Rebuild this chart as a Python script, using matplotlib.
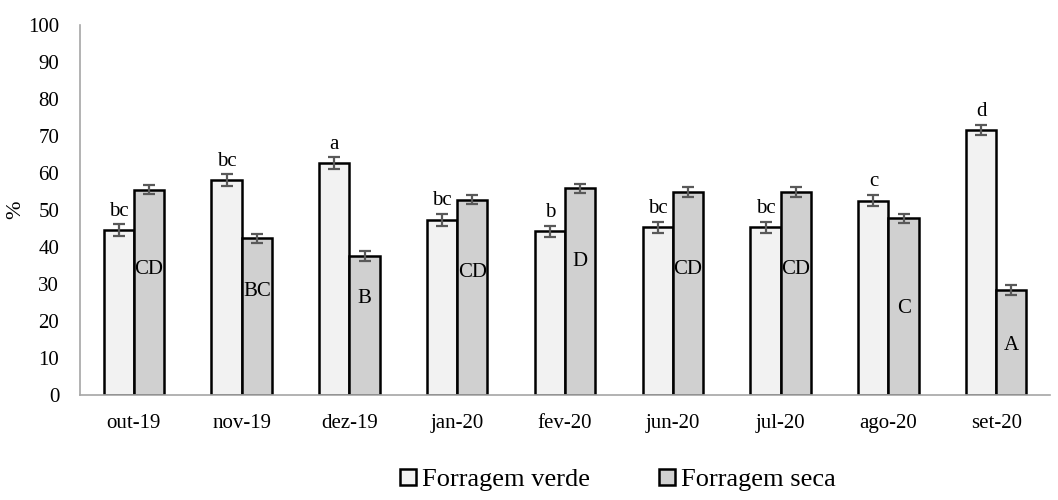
import matplotlib
matplotlib.use("Agg")
from matplotlib import pyplot as plt
import numpy as np

months = ["out-19", "nov-19", "dez-19", "jan-20", "fev-20", "jun-20", "jul-20", "ago-20", "set-20"]
verde = [44.5, 58.0, 62.7, 47.3, 44.2, 45.3, 45.3, 52.5, 71.7]
seca = [55.5, 42.3, 37.5, 52.8, 55.9, 54.9, 54.9, 47.8, 28.4]
err_verde = [1.6, 1.6, 1.5, 1.6, 1.6, 1.5, 1.5, 1.5, 1.4]
err_seca = [1.2, 1.3, 1.3, 1.2, 1.2, 1.3, 1.3, 1.2, 1.3]
letras_verde = ["bc", "bc", "a", "bc", "b", "bc", "bc", "c", "d"]
letras_seca = ["CD", "BC", "B", "CD", "D", "CD", "CD", "C", "A"]
pos_letras_seca = [34, 28, 26, 33, 36, 34, 34, 23.5, 13.5]

plt.rcParams["font.family"] = ["Liberation Serif", "DejaVu Serif"]

fig = plt.figure(figsize=(10.58, 5.0), dpi=100)
ax = fig.add_axes([0.0756, 0.21, 0.917, 0.74])

x = np.arange(len(months))
w = 0.28
b1 = ax.bar(x - w / 2, verde, w, color="#f2f2f2", edgecolor="black", linewidth=1.8,
            label="Forragem verde", zorder=2)
b2 = ax.bar(x + w / 2, seca, w, color="#d0d0d0", edgecolor="black", linewidth=1.8,
            label="Forragem seca", zorder=2)
ax.errorbar(x - w / 2, verde, yerr=err_verde, fmt="none", ecolor="#595959",
            elinewidth=1.6, capsize=4.5, capthick=1.6, zorder=3)
ax.errorbar(x + w / 2, seca, yerr=err_seca, fmt="none", ecolor="#595959",
            elinewidth=1.6, capsize=4.5, capthick=1.6, zorder=3)

for i in range(len(months)):
    ax.text(x[i] - w / 2, verde[i] + err_verde[i] + 1.0, letras_verde[i],
            ha="center", va="bottom", fontsize=15)
    ax.text(x[i] + w / 2, pos_letras_seca[i], letras_seca[i],
            ha="center", va="center", fontsize=15)

ax.set_xlim(-0.5, len(months) - 0.5)
ax.set_ylim(0, 100)
ax.set_yticks(range(0, 101, 10))
ax.set_xticks(x)
ax.set_xticklabels(months)
ax.tick_params(axis="y", length=0, labelsize=15, pad=15)
ax.tick_params(axis="x", length=0, labelsize=15, pad=14)
ax.set_ylabel("%", fontsize=16, labelpad=2)
for s in ["top", "right"]:
    ax.spines[s].set_visible(False)
ax.spines["left"].set_color("#a6a6a6")
ax.spines["bottom"].set_color("#a6a6a6")
ax.spines["left"].set_linewidth(1.2)
ax.spines["bottom"].set_linewidth(1.2)

fig.legend(handles=[b1, b2], loc="lower center", bbox_to_anchor=(0.584, -0.03), ncol=2,
           frameon=False, fontsize=19, handlelength=0.6, handleheight=0.6,
           handletextpad=0.25, columnspacing=2.6)

fig.savefig("out.png", dpi=100)
